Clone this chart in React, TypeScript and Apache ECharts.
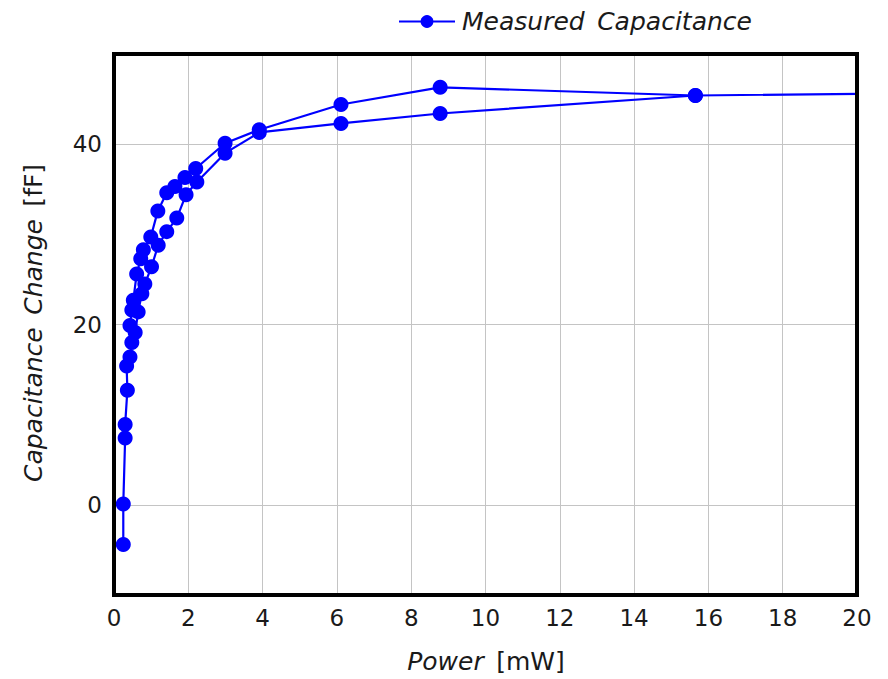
import React, { useEffect, useRef } from "react";
import * as echarts from "echarts";

// Measured power (mW) and capacitance change (fF), in sweep order
const powerMW = [
  0.25, 0.25, 0.3, 0.3, 0.36, 0.34, 0.43, 0.48,
  0.57, 0.65, 0.75, 0.83, 1.01, 1.19, 1.42, 1.69, 1.94, 2.23, 2.99, 3.91, 6.11, 8.78, 15.65, 25, 15.65,
  8.78, 6.11, 3.91, 2.99, 2.2, 1.91, 1.64, 1.42, 1.18, 0.99, 0.79, 0.72, 0.61, 0.52, 0.48, 0.43,
];
const capChangeFF = [
  -4.4, 0.1, 7.4, 8.9, 12.7, 15.4, 16.4, 18.0,
  19.1, 21.4, 23.4, 24.5, 26.4, 28.8, 30.3, 31.8, 34.4, 35.8, 39.0, 41.3, 42.3, 43.4, 45.4, 45.8, 45.4,
  46.3, 44.4, 41.6, 40.1, 37.3, 36.3, 35.3, 34.6, 32.6, 29.7, 28.3, 27.3, 25.6, 22.7, 21.6, 19.9,
];
const seriesName = "Measured Capacitance";
const xTicks = { min: 0, max: 20, interval: 2 };
const yRange = { min: -10, max: 50 };
const yTickValues = [0, 20, 40];

const FONT = "'DejaVu Sans', sans-serif";
const TEXT = "#1a1a1a";
const SP = "\u2002";

export default function App() {
  const ref = useRef<HTMLDivElement>(null);
  useEffect(() => {
    if (!ref.current) return;
    const chart = echarts.init(ref.current, null, { renderer: "svg" });
    const data = powerMW.map((x, i) => [x, capChangeFF[i]]);
    chart.setOption({
      animation: false,
      backgroundColor: "#ffffff",
      grid: {
        left: 114,
        right: 31,
        top: 54,
        bottom: 84,
        show: true,
        borderColor: "#000000",
        borderWidth: 4,
        backgroundColor: "transparent",
        z: 10,
      },
      legend: {
        left: 393,
        top: 4,
        itemWidth: 56,
        itemHeight: 16,
        data: [seriesName],
        formatter: (n: string) => n.replace(" ", SP),
        textStyle: {
          fontFamily: FONT,
          fontStyle: "italic",
          fontSize: 25,
          color: TEXT,
          padding: [0, 0, 0, 2],
        },
      },
      xAxis: {
        type: "value",
        min: xTicks.min,
        max: xTicks.max,
        interval: xTicks.interval,
        axisLine: { show: false },
        axisTick: { show: false },
        axisLabel: {
          fontFamily: FONT,
          fontSize: 23,
          color: TEXT,
          margin: 11,
        },
        splitLine: { show: true, lineStyle: { color: "#c4c4c4", width: 1 } },
      },
      yAxis: {
        type: "value",
        min: yRange.min,
        max: yRange.max,
        axisLine: { show: false },
        axisTick: { show: false, customValues: yTickValues },
        axisLabel: {
          fontFamily: FONT,
          fontSize: 23,
          color: TEXT,
          margin: 12,
          customValues: yTickValues,
        },
        splitLine: { show: true, lineStyle: { color: "#c4c4c4", width: 1 } },
      },
      graphic: [
        {
          type: "text",
          x: 486,
          y: 661,
          style: {
            text: "{i|Power}{n|" + SP + "[mW]}",
            align: "center",
            verticalAlign: "middle",
            rich: {
              i: { fontFamily: FONT, fontStyle: "italic", fontSize: 25, fill: TEXT },
              n: { fontFamily: FONT, fontSize: 25, fill: TEXT },
            },
          },
        },
        {
          type: "text",
          x: 33,
          y: 323,
          rotation: Math.PI / 2,
          style: {
            text: "{i|Capacitance" + SP + "Change}{n|" + SP + "[fF]}",
            align: "center",
            verticalAlign: "middle",
            rich: {
              i: { fontFamily: FONT, fontStyle: "italic", fontSize: 25, fill: TEXT },
              n: { fontFamily: FONT, fontSize: 25, fill: TEXT },
            },
          },
        },
      ],
      series: [
        {
          name: seriesName,
          type: "line",
          data,
          clip: true,
          symbol: "circle",
          symbolSize: 15,
          itemStyle: { color: "#0000ff" },
          lineStyle: { color: "#0000ff", width: 2.2 },
        },
      ],
    });
    return () => chart.dispose();
  }, []);
  return (
    <div
      ref={ref}
      style={{ position: "absolute", left: 0, top: 0, width: 888, height: 679 }}
    />
  );
}
